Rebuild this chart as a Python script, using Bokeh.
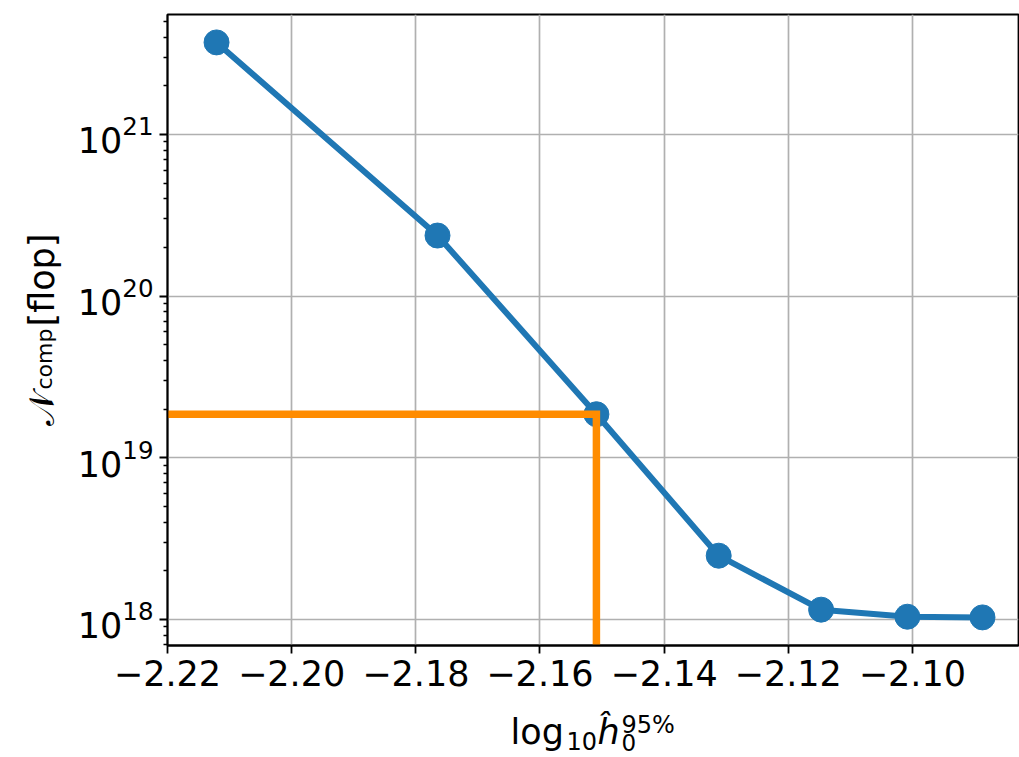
import math
from bokeh.plotting import figure
from bokeh.models import Range1d, FixedTicker, CustomJSTickFormatter
from bokeh.layouts import row, column
from bokeh.core.properties import value
from bokeh.embed import file_html
from bokeh.resources import INLINE

# data
h_log10 = [-2.2121, -2.1765, -2.1509, -2.1312, -2.1147, -2.1008, -2.0887]
n_comp = [3.71e21, 2.37e20, 1.86e19, 2.48e18, 1.15e18, 1.04e18, 1.03e18]
x_ticks = [-2.22, -2.20, -2.18, -2.16, -2.14, -2.12, -2.10]
y_ticks = [1e18, 1e19, 1e20, 1e21]
sel_index = 2

x_lo, x_hi = -2.22, -2.0829
y_lo, y_hi = 10 ** 17.839, 10 ** 21.742

W, H = 1019, 757
FL, FT, FB = 167, 14, 645  # frame edges (px)
YLW = 66                   # width of y-label strip
MH = 700                   # height of main plot panel
K = 0.41                   # baseline correction (fraction of font size)

p = figure(width=W - YLW, height=MH, x_range=Range1d(x_lo, x_hi),
           y_range=Range1d(y_lo, y_hi), y_axis_type="log",
           output_backend="svg", toolbar_location=None,
           min_border_left=FL - YLW, min_border_right=1,
           min_border_top=FT, min_border_bottom=MH - FB)
p.background_fill_color = "white"
p.border_fill_color = "white"
p.outline_line_color = "black"
p.outline_line_width = 1.8

blue = "#1f77b4"
orange = "#ff8c00"
p.line(h_log10, n_comp, line_color=blue, line_width=6)
p.scatter(h_log10, n_comp, size=25, fill_color=blue, line_color=blue)

xs, ys = h_log10[sel_index], n_comp[sel_index]
p.line([x_lo, xs, xs], [ys, ys, y_lo], line_color=orange, line_width=7.5,
       line_join="miter")

# axes
p.xaxis.ticker = FixedTicker(ticks=x_ticks)
p.xaxis.formatter = CustomJSTickFormatter(
    code="return (tick < 0 ? '\u2212' : '') + Math.abs(tick).toFixed(2);")
minor = [m * 10 ** e for e in range(17, 22) for m in range(2, 10)]
p.yaxis.ticker = FixedTicker(ticks=y_ticks, minor_ticks=minor)
for ax in (p.xaxis[0], p.yaxis[0]):
    ax.axis_line_color = "black"
    ax.axis_line_width = 1.8
    ax.major_tick_line_color = "black"
    ax.major_tick_line_width = 1.8
    ax.major_tick_out = 8
    ax.major_tick_in = 0
    ax.minor_tick_line_color = "black"
    ax.minor_tick_line_width = 1.4
    ax.minor_tick_out = 4
    ax.minor_tick_in = 0
    ax.major_label_text_font = "DejaVu Sans"
    ax.major_label_text_font_size = "35px"
    ax.major_label_text_color = "black"
    ax.major_label_standoff = 6
p.xaxis.minor_tick_line_color = None

p.xgrid.ticker = FixedTicker(ticks=x_ticks)
for g in (p.xgrid[0], p.ygrid[0]):
    g.grid_line_color = "#b0b0b0"
    g.grid_line_width = 1.7

# label strips: data coordinates equal canvas pixels (y flipped)
ylab = figure(width=YLW, height=MH, x_range=Range1d(0, YLW),
              y_range=Range1d(MH - FB, MH - FT), output_backend="svg",
              toolbar_location=None, x_axis_location=None,
              y_axis_location=None, min_border=0)
xlab = figure(width=W, height=H - MH, x_range=Range1d(0, W),
              y_range=Range1d(0, H - MH), output_backend="svg",
              toolbar_location=None, x_axis_location=None,
              y_axis_location=None, min_border=0)
for f in (ylab, xlab):
    f.grid.visible = False
    f.outline_line_color = None
    f.background_fill_color = "white"
    f.border_fill_color = "white"


def put_y(X, Y, text, size):
    # X: desired baseline column, Y: where the upward-running text starts
    ylab.text(x=[X - K * size], y=[MH - Y], text=[text],
              text_font=value("DejaVu Sans"),
              text_font_size=value(f"{size}px"), text_color="black",
              text_align="left", text_baseline="alphabetic",
              angle=math.pi / 2)


def put_x(X, Y, text, size, italic=False):
    # Y: desired baseline row
    xlab.text(x=[X], y=[H - (Y - K * size)], text=[text],
              text_font=value("DejaVu Sans"),
              text_font_size=value(f"{size}px"), text_color="black",
              text_font_style="italic" if italic else "normal",
              text_align="left", text_baseline="alphabetic")


# y label: N_comp[flop]
put_y(56, 425, "\U0001D4A9", 35)
put_y(53, 389, "comp", 22)
put_y(56, 326, "[flop]", 35)

# x label: log10 h^95%_0
put_x(510, 746, "log", 35)
put_x(566, 750, "10", 24)
put_x(597, 746, "\u0125", 35, italic=True)
put_x(621, 734, "95%", 24)
put_x(621, 751, "0", 23)

layout = column(row(ylab, p, spacing=0), xlab, spacing=0)
open("out.html", "w").write(file_html(layout, INLINE))
